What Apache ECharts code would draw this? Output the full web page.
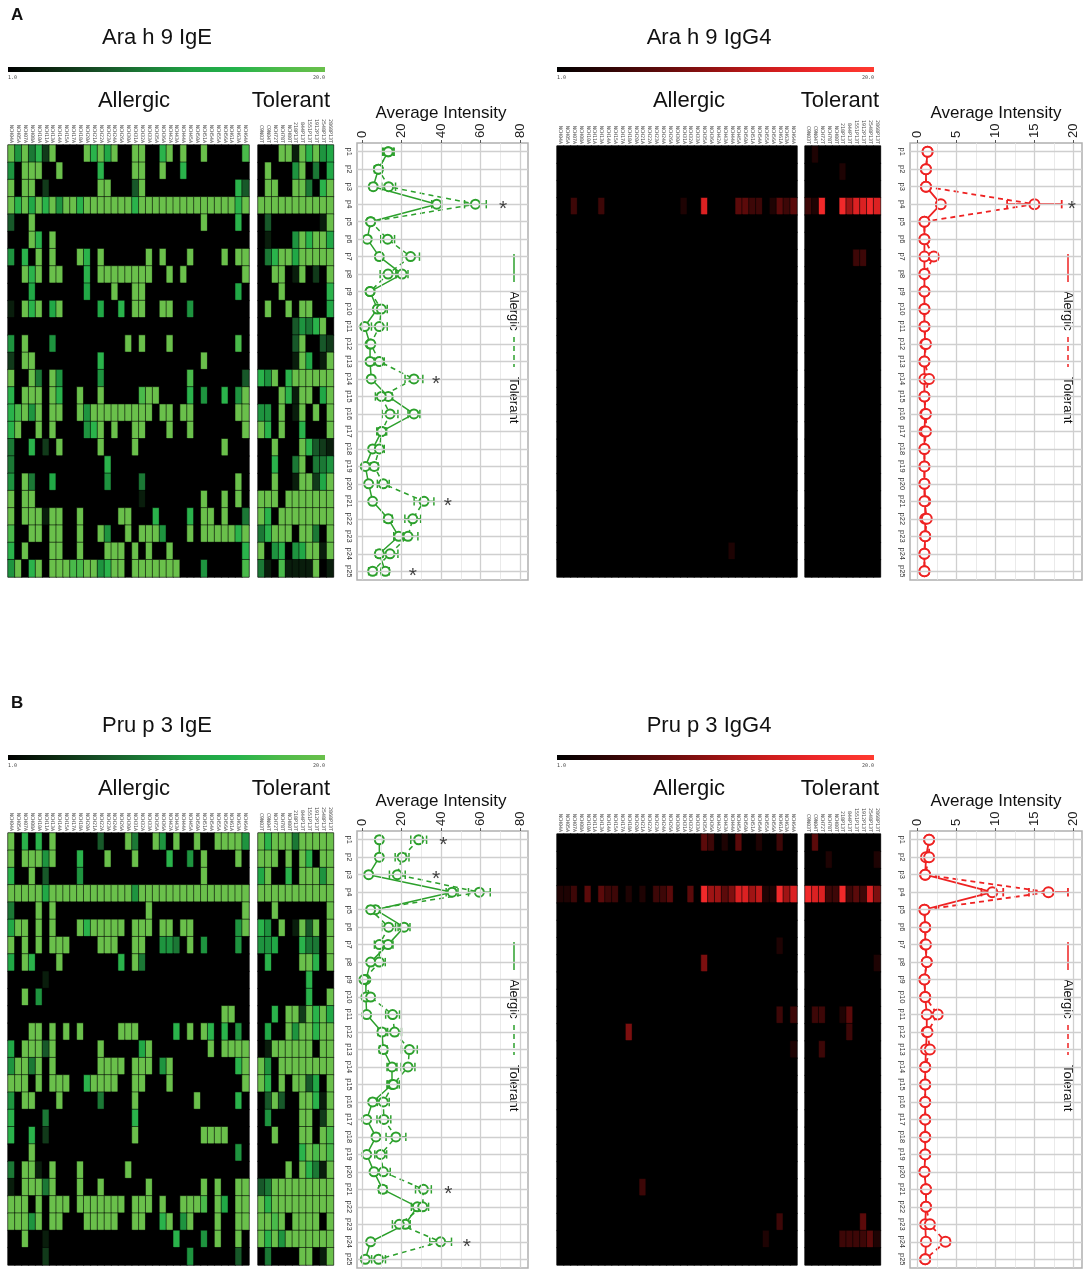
<!DOCTYPE html>
<html>
<head>
<meta charset="utf-8">
<title>Ara h 9 / Pru p 3 peptide intensities</title>
<script src="https://cdn.jsdelivr.net/npm/echarts@6.0.0/dist/echarts.min.js"></script>
<style>
html, body { margin: 0; padding: 0; background: #fff; }
#chart { width: 1084px; height: 1270px; }
</style>
</head>
<body>
<div id="chart"></div>
<script>
// ---- data -------------------------------------------------------------
var peptides = ['p1', 'p2', 'p3', 'p4', 'p5', 'p6', 'p7', 'p8', 'p9', 'p10', 'p11', 'p12', 'p13',
    'p14', 'p15', 'p16', 'p17', 'p18', 'p19', 'p20', 'p21', 'p22', 'p23', 'p24', 'p25'];

var allergicIds = ['NCH04A', 'NCH05A', 'NCH07A', 'NCH08A', 'NCH10A', 'NCH11A', 'NCH13A', 'NCH14A',
    'NCH15A', 'NCH17A', 'NCH18A', 'NCH20A', 'NCH21A', 'NCH22A', 'NCH23A', 'NCH24A', 'NCH26A',
    'NCH30A', 'NCH31A', 'NCH32A', 'NCH33A', 'NCH35A', 'NCH36A', 'NCH42A', 'NCH43A', 'NCH44A',
    'NCH45A', 'NCH50A', 'NCH51A', 'NCH54A', 'NCH55A', 'NCH56A', 'NCH61A', 'NCH63A', 'NCH64A'];
var tolerantIds = ['C9N03T', 'C9N04T', 'NCH72T', 'NCH78T', 'NCH80T', '218P13T', '844P13T',
    '1551P13T', '1912P13T', '2548P13T', '2868P13T'];

// heatmap cells, one string per peptide, one char per patient ('.' = no signal, 1..9 = level)
var levelValue = [1, 3, 5, 7, 9, 11, 13, 15, 17, 20];

var araIgEAllergic = [
    '95947 29... .9796 9..99 ..79. 9..9. ....8',
    '5.999 ..9.. ...7. ...99 ..9.. 7.... .....',
    '9.99. 2.... ...99 ...39 ..... ..... ...73',
    '97969 79599 79999 99979 99999 99999 99979',
    '3..9. ..... ..... ..... ..... ...9. ...7.',
    '...97 .9... ..... ..... ..... ..... .....',
    '5.7.9 .9... 97.9. ..... 9.9.. .9... .9.99',
    '..979 .99.. .7.99 99999 9..9. 9.... ....9',
    '...6. ..... .6... 9..99 ..... ..... ...6.',
    '1.979 .69.. ...6. .7.99 ..99. .5... .....',
    '..... ..... ..... ..... ..... ..... .....',
    '5.9.. .5... ..... ..9.9 ...9. ..... ...8.',
    '2.99. ..... ...7. ..... ..... ...9. .....',
    '9..94 .95.. ...5. ..... ..... .8... ....3',
    '7.999 .97.. 9..9. ....8 99... .7.5. .7.59',
    '78959 .99.. 95999 99999 9.99. 99... ...99',
    '79..9 .9... .579. 9..99 ...9. .9... ....9',
    '4..7. 2.9.. ...9. ...9. ..... ..... .9...',
    '4.... ..... ....7 ..... ..... ..... .....',
    '5.94. .6... ....5 ....4 ..... ..... ...9.',
    '9.99. ..... ..... ....1 ..... ...9. .9.9.',
    '9.999 199.. 9.... .99.. .7... .7.99 .9..4',
    '8..99 .99.. 9..95 ..9.9 995.. .9.99 99979',
    '7.9.. .99.. 9...9 99.9. 9..9. ..... ....7',
    '59.79 .9998 89957 99.99 99999 ...5. ....8'
];
var araIgETolerant = [
    '...99 19795 6', '.9... 59.4. 6', '.99.. 994.7 9', '99999 99999 9', '.3... ....1 9',
    '.1... 59799 6', '.4799 69999 9', '..99. 19.2. 9', '...9. ..... 7', '.9..9 .99.. 6',
    '..... 35479 .', '..... 39..3 2', '..... 196.1 9', '759.7 99999 9', '...97 199.6 9',
    '55.9. 19.9. 9', '97.9. .7... 9', '..9.. .9732 1', '..7.. 49.44 5', '..9.. 19926 9',
    '999.9 99999 9', '97.99 99999 9', '47999 .994. 9', '9.57. 56991 9', '41.81 1119. 1'
];
var araIgG4Allergic = [
    '..... ..... ..... ..... ..... ..... .....',
    '..... ..... ..... ..... ..... ..... .....',
    '..... ..... ..... ..... ..... ..... .....',
    '..2.. .2... ..... ...1. .7... .3322 .1323',
    '..... ..... ..... ..... ..... ..... .....',
    '..... ..... ..... ..... ..... ..... .....',
    '..... ..... ..... ..... ..... ..... .....',
    '..... ..... ..... ..... ..... ..... .....',
    '..... ..... ..... ..... ..... ..... .....',
    '..... ..... ..... ..... ..... ..... .....',
    '..... ..... ..... ..... ..... ..... .....',
    '..... ..... ..... ..... ..... ..... .....',
    '..... ..... ..... ..... ..... ..... .....',
    '..... ..... ..... ..... ..... ..... .....',
    '..... ..... ..... ..... ..... ..... .....',
    '..... ..... ..... ..... ..... ..... .....',
    '..... ..... ..... ..... ..... ..... .....',
    '..... ..... ..... ..... ..... ..... .....',
    '..... ..... ..... ..... ..... ..... .....',
    '..... ..... ..... ..... ..... ..... .....',
    '..... ..... ..... ..... ..... ..... .....',
    '..... ..... ..... ..... ..... ..... .....',
    '..... ..... ..... ..... ..... ..... .....',
    '..... ..... ..... ..... ..... 1.... .....',
    '..... ..... ..... ..... ..... ..... .....'
];
var araIgG4Tolerant = [
    '.1... ..... .', '..... 1.... .', '..... ..... .', '218.. 85778 7', '..... ..... .',
    '..... ..... .', '..... ..22. .', '..... ..... .', '..... ..... .', '..... ..... .',
    '..... ..... .', '..... ..... .', '..... ..... .', '..... ..... .', '..... ..... .',
    '..... ..... .', '..... ..... .', '..... ..... .', '..... ..... .', '..... ..... .',
    '..... ..... .', '..... ..... .', '..... ..... .', '..... ..... .', '..... ..... .'
];
var pruIgEAllergic = [
    '9.7.7 .9... ...3. ..94. .95.9 ..9.. 99995',
    '9.999 59... 7...9 ...9. ...7. .5.9. ...9.',
    '7..9. 3.... 5.... ..... ..... ...9. .....',
    '99999 69999 99999 99959 99999 99999 99999',
    '4...9 .9... ..... ..... 9.... ..... ....9',
    '699.9 .9... 97999 99.99 9.99. 99... ...59',
    '9.9.9 .999. ...99 9..99 ..554 .9.5. ...5.',
    '6.97. ..9.. ..... .7.94 ..... ..... .....',
    '..... 1.... ..... ..... ..... ..... .....',
    '..9.5 ..... ..... ..... ..... ..... .....',
    '..... ..... ..... ..... ..... ..... .99..',
    '...99 .9.9. 9.... .999. ....7 .9.97 .7.5.',
    '6.999 39... ...9. ....6 9.... ....9 .9999',
    '59949 .9... ...99 99.99 9.59. ..... ...79',
    '999.9 .999. .7999 9..99 ...9. ..... ....9',
    '5.99. ..9.. ...4. ...9. ..... ..9.. ...7.',
    '7.... 4.... ..... ...7. ..... ..... .....',
    '7..7. 2.... ..... ...9. ..... ...99 99...',
    '...9. ..... ..... ..... ..... ..... ...5.',
    '4.991 .9... 9.... ..9.. ..... ..... .....',
    '1.999 49... 9..9. ..... 9.... ...9. 9..99',
    '999.9 .999. 99999 99.99 9.9.. 9998. 96.99',
    '99959 .99.. .9999 9..99 ..79. 59... 9..99',
    '..9.. 1.... ..... ..... ....7 ...5. 9..9.',
    '..... 2.... ..... ..... ..... .5... ...3.'
];
var pruIgETolerant = [
    '97999 49999 9', '999.9 .97.9 9', '69..7 .9995 9', '99999 99999 9', '..9.. ..... 9',
    '75.9. 1939. 9', '556.. .744. 9', '.7... .997. 9', '..... ..7.. .', '..... ..7.. 9',
    '..7.9 92979 6', '.6..9 59979 9', '.1999 999.9 9', '95.99 99999 9', '97.9. 9936. 9',
    '.393. .9971 9', '.5... .99.2 9', '..9.. .99.9 8', '..... .7989 8', '....9 .9741 9',
    '34999 99999 9', '97999 99999 9', '9989. 9999. 9', '97959 99999 9', '.4... .99.1 9'
];
var pruIgG4Allergic = [
    '..... ..... ..... ..... .32.1 .3..1 ..2..',
    '..... ..... ..... ..... ..... ..... .....',
    '..... ..... ..... ..... ..... ..... .....',
    '112.3 .322. 1.1.2 23..3 .8553 47756 11857',
    '..... ..... ..... ..... ..... ..... .....',
    '..... ..... ..... ..... ..... ..... .....',
    '..... ..... ..... ..... ..... ..... ..1..',
    '..... ..... ..... ..... .4... ..... .....',
    '..... ..... ..... ..... ..... ..... .....',
    '..... ..... ..... ..... ..... ..... .....',
    '..... ..... ..... ..... ..... ..... ..2.2',
    '..... ..... 4.... ..... ..... ..... .....',
    '..... ..... ..... ..... ..... ..... ....1',
    '..... ..... ..... ..... ..... ..... .....',
    '..... ..... ..... ..... ..... ..... .....',
    '..... ..... ..... ..... ..... ..... .....',
    '..... ..... ..... ..... ..... ..... .....',
    '..... ..... ..... ..... ..... ..... .....',
    '..... ..... ..... ..... ..... ..... .....',
    '..... ..... ..... ..... ..... ..... .....',
    '..... ..... ..2.. ..... ..... ..... .....',
    '..... ..... ..... ..... ..... ..... .....',
    '..... ..... ..... ..... ..... ..... ..2..',
    '..... ..... ..... ..... ..... ..... 1....',
    '..... ..... ..... ..... ..... ..... .....'
];
var pruIgG4Tolerant = [
    '.3... ..... .', '...1. ..... 1', '..... ..... .', '87722 82327 4', '..... ..... .',
    '..... ..... .', '..... ..... .', '..... ..... 1', '..... ..... .', '..... ..... .',
    '.22.. 13... .', '..... .2... .', '..2.. ..... .', '..... ..... .', '..... ..... .',
    '..... ..... .', '..... ..... .', '..... ..... .', '..... ..... .', '..... ..... .',
    '..... ..... .', '..... ..... .', '..... ...3. .', '..... 22223 1', '..... ..... .'
];

// average intensity (mean and error half-width) per peptide
var araIgEAvgAllergic = [13.3, 8.3, 5.7, 37.8, 4.4, 2.7, 8.8, 20.3, 4.1, 7.8, 1.4, 4.1, 4.1,
    4.7, 13.3, 26.3, 10.0, 5.4, 1.7, 3.4, 5.4, 13.3, 18.6, 8.8, 11.8];
var araIgEErrAllergic = [2.5, 1.5, 1.5, 2.5, 1.2, 0.8, 1.5, 3.0, 1.2, 1.5, 0.6, 1.0, 1.0,
    1.2, 2.0, 3.0, 1.8, 1.2, 0.6, 1.0, 1.2, 2.0, 2.5, 1.8, 2.0];
var araIgEAvgTolerant = [13.3, 8.3, 13.5, 57.4, 4.4, 13.0, 24.6, 13.2, 4.1, 9.8, 8.8, 4.5, 8.8,
    26.3, 9.8, 14.2, 10.0, 8.8, 6.2, 10.8, 31.4, 25.7, 23.3, 14.2, 5.4];
var araIgEErrTolerant = [3.0, 2.0, 3.5, 5.5, 1.5, 3.5, 4.5, 4.0, 1.5, 3.0, 4.0, 1.5, 2.5,
    4.5, 3.0, 4.0, 2.5, 2.5, 2.0, 3.0, 5.0, 4.0, 5.0, 4.0, 2.0];
var araIgEStars = [[71.4, 'p4'], [37.5, 'p14'], [43.5, 'p21'], [25.7, 'p25']];

var araIgG4AvgAllergic = [1.3, 1.1, 1.1, 3.0, 0.9, 0.9, 0.9, 0.9, 0.9, 0.9, 0.9, 1.0, 0.9,
    0.9, 0.9, 1.0, 0.9, 0.9, 0.9, 0.9, 1.0, 1.0, 1.0, 0.9, 0.9];
var araIgG4ErrAllergic = [0.2, 0.1, 0.1, 0.4, 0.05, 0.05, 0.05, 0.05, 0.05, 0.05, 0.05, 0.1, 0.05,
    0.05, 0.05, 0.05, 0.05, 0.05, 0.05, 0.05, 0.05, 0.1, 0.05, 0.05, 0.05];
var araIgG4AvgTolerant = [1.3, 1.1, 1.1, 15.0, 0.9, 0.9, 2.1, 0.9, 0.9, 0.9, 0.9, 1.1, 0.9,
    1.5, 0.9, 1.1, 1.1, 0.9, 0.9, 0.9, 0.9, 1.2, 1.0, 0.9, 0.9];
var araIgG4ErrTolerant = [0.2, 0.1, 0.1, 3.5, 0.05, 0.05, 0.5, 0.05, 0.05, 0.05, 0.05, 0.1, 0.05,
    0.2, 0.05, 0.05, 0.1, 0.05, 0.05, 0.05, 0.05, 0.1, 0.05, 0.05, 0.05];
var araIgG4Stars = [[19.8, 'p4']];

var pruIgEAvgAllergic = [8.8, 8.8, 3.4, 45.6, 6.8, 21.3, 13.2, 4.4, 2.0, 2.0, 2.4, 10.1, 10.8,
    15.2, 15.2, 5.4, 2.4, 7.1, 2.4, 6.1, 10.5, 28.0, 21.9, 4.4, 1.7];
var pruIgEErrAllergic = [1.5, 1.5, 1.0, 3.0, 1.5, 3.0, 2.5, 1.0, 0.6, 0.6, 0.6, 2.0, 2.0,
    2.5, 2.5, 1.5, 0.6, 1.5, 0.6, 1.5, 2.0, 3.0, 2.5, 1.2, 0.5];
var pruIgEAvgTolerant = [28.7, 20.3, 17.9, 59.4, 4.4, 13.5, 8.8, 8.8, 1.0, 4.4, 15.5, 16.5, 24.0,
    23.3, 15.9, 10.8, 11.1, 17.2, 9.5, 10.8, 31.1, 30.7, 18.9, 39.8, 8.4];
var pruIgEErrTolerant = [4.0, 3.5, 4.0, 5.5, 1.5, 3.5, 2.5, 3.0, 0.8, 1.5, 3.5, 3.5, 4.0,
    3.5, 3.0, 3.0, 3.5, 5.0, 3.0, 3.5, 4.0, 3.0, 3.5, 5.5, 3.5];
var pruIgEStars = [[41.2, 'p1'], [37.5, 'p3'], [43.7, 'p21'], [53.0, 'p24']];

var pruIgG4AvgAllergic = [1.5, 1.1, 1.0, 9.6, 0.9, 1.0, 1.0, 1.2, 0.9, 1.0, 1.2, 1.2, 1.1,
    1.0, 1.0, 1.0, 1.0, 1.0, 1.0, 0.9, 1.1, 1.1, 1.0, 1.1, 1.0];
var pruIgG4ErrAllergic = [0.2, 0.1, 0.1, 1.4, 0.05, 0.05, 0.05, 0.1, 0.05, 0.05, 0.1, 0.1, 0.05,
    0.05, 0.05, 0.05, 0.05, 0.05, 0.05, 0.05, 0.05, 0.05, 0.05, 0.05, 0.05];
var pruIgG4AvgTolerant = [1.5, 1.5, 1.0, 16.8, 0.9, 1.0, 1.1, 1.2, 0.9, 1.0, 2.6, 1.3, 1.6,
    1.0, 1.0, 1.0, 1.0, 1.0, 1.0, 0.9, 1.1, 1.1, 1.6, 3.6, 1.0];
var pruIgG4ErrTolerant = [0.3, 0.2, 0.1, 2.5, 0.05, 0.05, 0.1, 0.1, 0.05, 0.05, 0.4, 0.1, 0.2,
    0.05, 0.05, 0.05, 0.05, 0.05, 0.05, 0.05, 0.05, 0.05, 0.2, 0.5, 0.05];
var pruIgG4Stars = [];

// ---- styling ----------------------------------------------------------
var FONT = '"Liberation Sans", Arial, sans-serif';
var GREEN = '#2ca02c', RED = '#ee2222';
var greenRamp = ['#000000', '#0c2810', '#164f26', '#1b7a36', '#1fa043', '#23b24b', '#4dbb4a', '#6ac04b'];
var redRamp = ['#000000', '#300505', '#600b0b', '#961212', '#cc1c1c', '#f0282a', '#ff3b30'];

var option = {
    animation: false,
    backgroundColor: '#ffffff',
    grid: [], xAxis: [], yAxis: [], series: [], visualMap: [], graphic: []
};
var greenIdx = [], redIdx = [];

function addGrid(g, xa, ya) {
    var i = option.grid.length;
    option.grid.push(g);
    xa.gridIndex = i; ya.gridIndex = i;
    option.xAxis.push(xa); option.yAxis.push(ya);
    return i;
}

function decode(rows) {
    var out = [];
    rows.forEach(function (r, yi) {
        var s = r.replace(/ /g, '');
        for (var xi = 0; xi < s.length; xi++) {
            var c = s.charAt(xi);
            out.push([xi, yi, levelValue[c === '.' ? 0 : +c]]);
        }
    });
    return out;
}

function addHeat(rows, ids, left, top, width, height, bucket) {
    var gi = addGrid(
        { left: left, top: top, width: width, height: height, show: true,
          backgroundColor: '#000', borderColor: '#9a9a9a', borderWidth: 1 },
        { type: 'category', data: ids, position: 'top',
          axisLine: { show: false }, axisTick: { show: false }, splitLine: { show: false },
          axisLabel: { interval: 0, rotate: 90, fontSize: 5, fontFamily: 'DejaVu Sans Mono',
                       color: '#444', margin: 2 } },
        { type: 'category', data: peptides, inverse: true, show: false }
    );
    bucket.push(option.series.length);
    option.series.push({
        type: 'heatmap', xAxisIndex: gi, yAxisIndex: gi, data: decode(rows),
        silent: true, progressive: 0,
        itemStyle: { borderColor: 'rgba(0,0,0,0.55)', borderWidth: 1 },
        emphasis: { disabled: true }
    });
}

function errorSeries(gi, vals, errs, color, w) {
    return {
        type: 'custom', xAxisIndex: gi, yAxisIndex: gi, z: 3, silent: true,
        data: vals.map(function (v, i) { return [v - errs[i], v + errs[i], i]; }),
        encode: { x: [0, 1], y: 2 },
        renderItem: function (params, api) {
            var lo = api.coord([api.value(0), api.value(2)]);
            var hi = api.coord([api.value(1), api.value(2)]);
            var h = 4.2, st = { stroke: color, lineWidth: w };
            return { type: 'group', children: [
                { type: 'line', shape: { x1: lo[0], y1: lo[1], x2: hi[0], y2: hi[1] }, style: st },
                { type: 'line', shape: { x1: lo[0], y1: lo[1] - h, x2: lo[0], y2: lo[1] + h }, style: st },
                { type: 'line', shape: { x1: hi[0], y1: hi[1] - h, x2: hi[0], y2: hi[1] + h }, style: st }
            ] };
        }
    };
}

function addLines(c) {
    var gi = addGrid(
        { left: c.left, top: c.top, width: c.width, height: 437, show: true,
          backgroundColor: '#fff', borderColor: '#b0b0b0', borderWidth: 1.5 },
        { type: 'value', position: 'top', min: c.xMin, max: c.xMax,
          axisLine: { show: false }, splitLine: { show: false },
          axisTick: { show: true, customValues: c.ticks, length: 3, lineStyle: { color: '#555' } },
          axisLabel: { customValues: c.ticks, rotate: -90, fontSize: 13, fontFamily: FONT,
                       color: '#222', margin: 5 } },
        { type: 'category', data: peptides, inverse: true,
          axisLine: { show: false }, splitLine: { show: false },
          axisTick: { show: true, alignWithLabel: true, length: 3, lineStyle: { color: '#555' } },
          axisLabel: { rotate: -90, fontSize: 7.5, fontFamily: FONT, color: '#333', margin: 4 } }
    );
    var lines = [];
    for (var v = 0; v <= c.ticks[c.ticks.length - 1] + 1e-9; v += c.minor) {
        var major = c.ticks.indexOf(v) >= 0;
        lines.push({ xAxis: v, lineStyle: { color: major ? '#cfcfcf' : '#e4e4e4',
                     width: major ? 1.3 : 0.8, type: 'solid' } });
    }
    peptides.forEach(function (p) {
        lines.push({ yAxis: p, lineStyle: { color: '#cfcfcf', width: 1.3, type: 'solid' } });
    });
    option.series.push({
        type: 'line', xAxisIndex: gi, yAxisIndex: gi, data: [], silent: true, z: 1,
        markLine: { silent: true, symbol: ['none', 'none'], label: { show: false },
                    animation: false, emphasis: { disabled: true }, data: lines }
    });
    option.series.push(errorSeries(gi, c.avgA, c.errA, c.color, c.lw));
    option.series.push(errorSeries(gi, c.avgT, c.errT, c.color, c.lw));
    [[c.avgA, 'solid'], [c.avgT, [5, 4]]].forEach(function (s) {
        option.series.push({
            type: 'line', xAxisIndex: gi, yAxisIndex: gi, z: 4, silent: true,
            data: s[0].map(function (v, i) { return [v, peptides[i]]; }),
            symbol: 'emptyCircle', symbolSize: c.sym,
            lineStyle: { color: c.color, width: c.lw, type: s[1] },
            itemStyle: { color: c.color, borderWidth: c.lw + 0.2 }
        });
    });
    option.series.push({
        type: 'scatter', xAxisIndex: gi, yAxisIndex: gi, z: 5, silent: true,
        data: c.stars, symbolSize: 1, itemStyle: { color: 'rgba(0,0,0,0)' },
        label: { show: true, position: 'inside', formatter: '*', fontSize: 21,
                 fontFamily: FONT, color: '#111', offset: [0, 5] }
    });
}

function text(x, y, s, size, opt) {
    opt = opt || {};
    option.graphic.push({
        type: 'text', x: x, y: y, rotation: opt.rot || 0, silent: true,
        style: { text: s, fill: opt.fill || '#111',
                 font: (opt.weight || 'normal') + ' ' + size + 'px ' + (opt.family || FONT),
                 textAlign: opt.align || 'center', textVerticalAlign: 'middle' }
    });
}

function colorBar(x, y, w, ramp) {
    option.graphic.push({
        type: 'rect', silent: true, shape: { x: x, y: y, width: w, height: 5 },
        style: { fill: { type: 'linear', x: 0, y: 0, x2: 1, y2: 0,
            colorStops: ramp.map(function (col, i) { return { offset: i / (ramp.length - 1), color: col }; }) } }
    });
    text(x, y + 11, '1.0', 5, { align: 'left', family: 'DejaVu Sans Mono', fill: '#444' });
    text(x + w, y + 11, '20.0', 5, { align: 'right', family: 'DejaVu Sans Mono', fill: '#444' });
}

function legend(x, y0, color) {
    option.graphic.push({ type: 'line', silent: true, shape: { x1: x, y1: y0, x2: x, y2: y0 + 28 },
        style: { stroke: color, lineWidth: 1.5 } });
    text(x, y0 + 37, 'Alergic', 13, { rot: -Math.PI / 2, align: 'left' });
    option.graphic.push({ type: 'line', silent: true, shape: { x1: x, y1: y0 + 83, x2: x, y2: y0 + 113 },
        style: { stroke: color, lineWidth: 1.5, lineDash: [5, 4] } });
    text(x, y0 + 123, 'Tolerant', 13, { rot: -Math.PI / 2, align: 'left' });
}

// ---- panels -----------------------------------------------------------
function panel(dy, label, igeTitle, igg4Title, d) {
    text(11, 15 + dy, label, 17, { weight: 'bold', align: 'left' });
    // IgE half
    text(157, 38 + dy, igeTitle, 22);
    colorBar(8, 67 + dy, 317, greenRamp);
    text(134, 101 + dy, 'Allergic', 22);
    text(291, 101 + dy, 'Tolerant', 22);
    addHeat(d.igeA, allergicIds, 8, 145 + dy, 241, 432, greenIdx);
    addHeat(d.igeT, tolerantIds, 258, 145 + dy, 75.5, 432, greenIdx);
    text(441, 113 + dy, 'Average Intensity', 17);
    addLines({ left: 357, top: 143 + dy, width: 171, xMin: -2.5, xMax: 84,
        ticks: [0, 20, 40, 60, 80], minor: 10, color: GREEN, lw: 1.5, sym: 9,
        avgA: d.igeAvgA, errA: d.igeErrA, avgT: d.igeAvgT, errT: d.igeErrT, stars: d.igeStars });
    legend(514, 254 + dy, GREEN);
    // IgG4 half
    text(709, 38 + dy, igg4Title, 22);
    colorBar(557, 67 + dy, 317, redRamp);
    text(689, 101 + dy, 'Allergic', 22);
    text(840, 101 + dy, 'Tolerant', 22);
    addHeat(d.igg4A, allergicIds, 557, 146 + dy, 240, 431, redIdx);
    addHeat(d.igg4T, tolerantIds, 805, 146 + dy, 75.5, 431, redIdx);
    text(996, 113 + dy, 'Average Intensity', 17);
    addLines({ left: 910, top: 143 + dy, width: 172, xMin: -0.95, xMax: 21.1,
        ticks: [0, 5, 10, 15, 20], minor: 2.5, color: RED, lw: 1.8, sym: 10,
        avgA: d.igg4AvgA, errA: d.igg4ErrA, avgT: d.igg4AvgT, errT: d.igg4ErrT, stars: d.igg4Stars });
    legend(1068, 254 + dy, RED);
}

panel(0, 'A', 'Ara h 9 IgE', 'Ara h 9 IgG4', {
    igeA: araIgEAllergic, igeT: araIgETolerant, igg4A: araIgG4Allergic, igg4T: araIgG4Tolerant,
    igeAvgA: araIgEAvgAllergic, igeErrA: araIgEErrAllergic, igeAvgT: araIgEAvgTolerant,
    igeErrT: araIgEErrTolerant, igeStars: araIgEStars,
    igg4AvgA: araIgG4AvgAllergic, igg4ErrA: araIgG4ErrAllergic, igg4AvgT: araIgG4AvgTolerant,
    igg4ErrT: araIgG4ErrTolerant, igg4Stars: araIgG4Stars
});
panel(688, 'B', 'Pru p 3 IgE', 'Pru p 3 IgG4', {
    igeA: pruIgEAllergic, igeT: pruIgETolerant, igg4A: pruIgG4Allergic, igg4T: pruIgG4Tolerant,
    igeAvgA: pruIgEAvgAllergic, igeErrA: pruIgEErrAllergic, igeAvgT: pruIgEAvgTolerant,
    igeErrT: pruIgEErrTolerant, igeStars: pruIgEStars,
    igg4AvgA: pruIgG4AvgAllergic, igg4ErrA: pruIgG4ErrAllergic, igg4AvgT: pruIgG4AvgTolerant,
    igg4ErrT: pruIgG4ErrTolerant, igg4Stars: pruIgG4Stars
});

option.visualMap = [
    { type: 'continuous', show: false, min: 1, max: 20, dimension: 2,
      seriesIndex: greenIdx, inRange: { color: greenRamp } },
    { type: 'continuous', show: false, min: 1, max: 20, dimension: 2,
      seriesIndex: redIdx, inRange: { color: redRamp } }
];

var chart = echarts.init(document.getElementById('chart'), null, { renderer: 'canvas' });
chart.setOption(option);
window.addEventListener('resize', function () { chart.resize(); });
</script>
</body>
</html>
